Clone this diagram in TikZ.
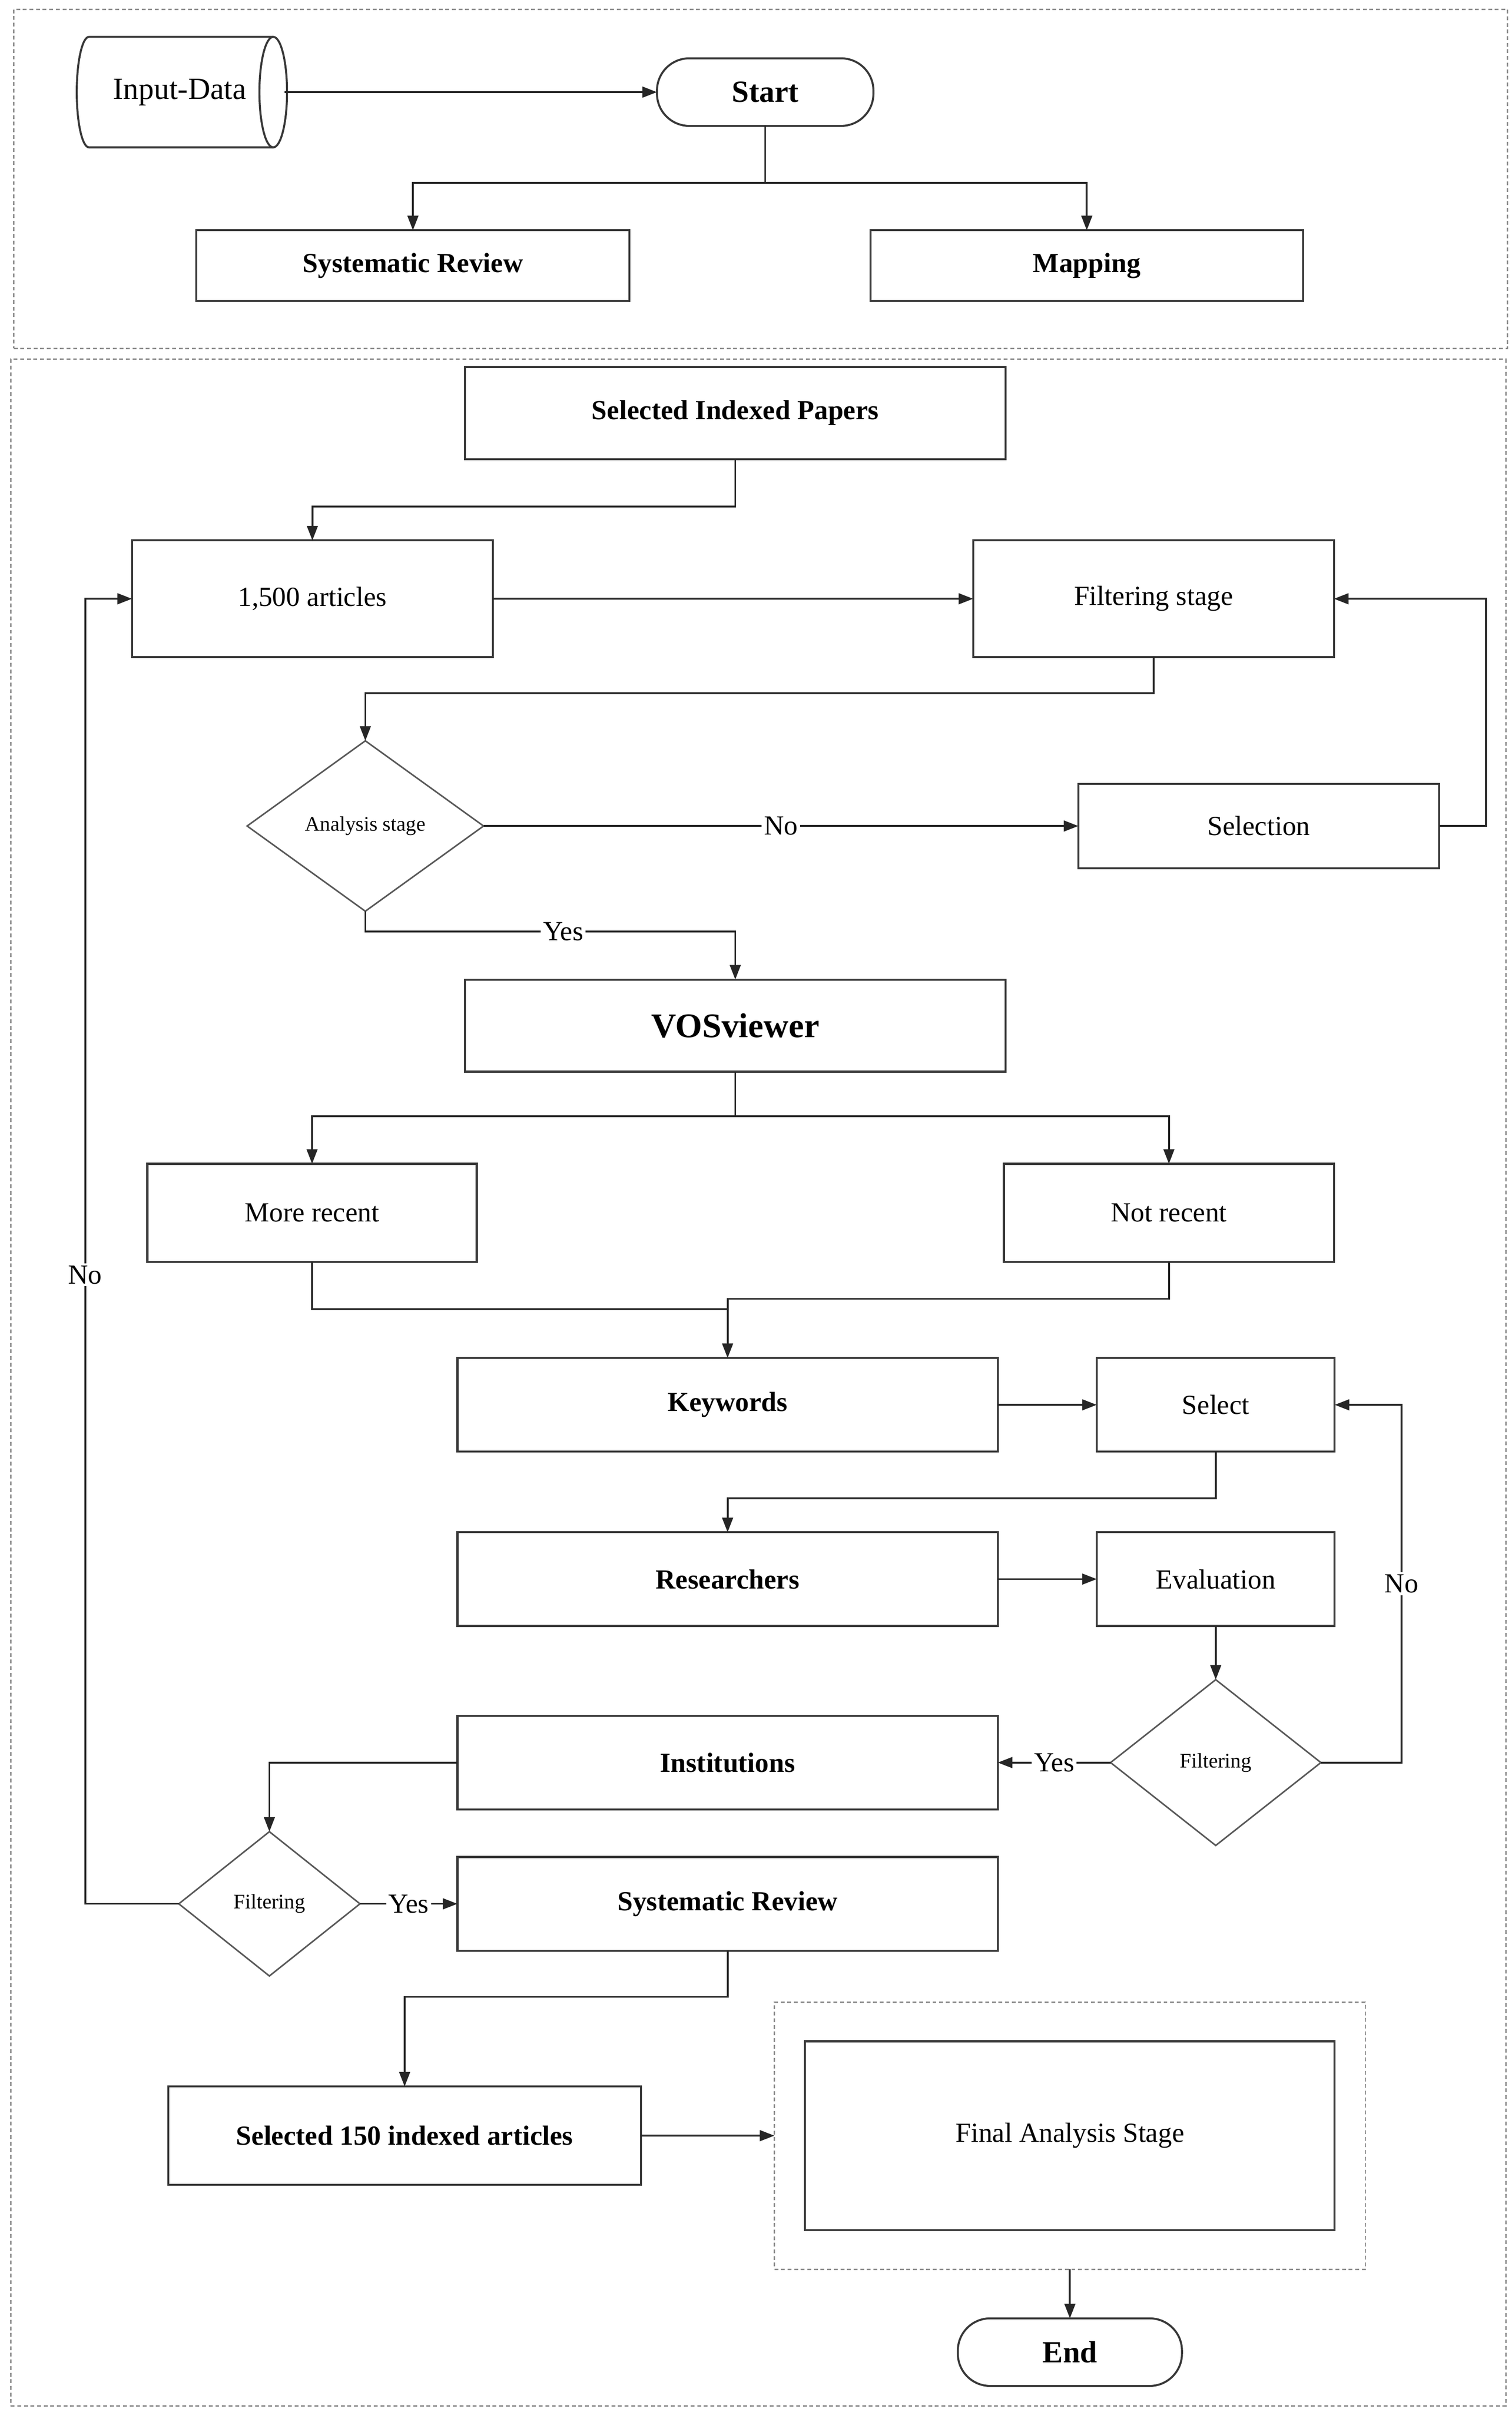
\documentclass[tikz,border=0pt]{standalone}
\usepackage{fontspec}
\setmainfont{Liberation Serif}
\usetikzlibrary{arrows.meta,shapes.geometric,calc}
\begin{document}
\begin{tikzpicture}[x=1pt,y=-1pt,
  every node/.style={inner sep=0pt, outer sep=0pt},
  frame/.style={draw=black!45, line width=0.9pt, dash pattern=on 2.5pt off 1.8pt},
  box/.style={draw=black!78, line width=1.3pt, fill=white, align=center, font=\fontsize{18}{21}\selectfont},
  bbox/.style={box, font=\fontsize{18}{21}\selectfont\bfseries},
  term/.style={box, rounded corners=21pt, font=\fontsize{20}{22}\selectfont\bfseries},
  dia/.style={diamond, draw=black!65, line width=1pt, fill=white, font=\fontsize{13.5}{15}\selectfont},
  shp/.style={draw=black!78, line width=1.3pt},
  ln/.style={draw=black!85, line width=1.2pt},
  arr/.style={ln, -{Triangle[length=9.5pt,width=7pt]}},
  lab/.style={fill=white, inner sep=1.5pt, font=\fontsize{18}{20}\selectfont}
]
\useasboundingbox (0,0) rectangle (985,1571);

% dashed frames
\node[frame, minimum width=973pt, minimum height=221pt] (topframe) at (495.5,116.5) {};
\node[frame, minimum width=974pt, minimum height=1333pt] (mainframe) at (494,900.5) {};

% ---- top part
\node[minimum width=137pt, minimum height=72pt, font=\fontsize{20}{22}\selectfont] (inp) at (117,60) {Input-Data};
\draw[shp] (178,24) -- (58,24) arc[start angle=270, end angle=90, x radius=8, y radius=36] -- (178,96);
\draw[shp] (178,60) ellipse[x radius=9, y radius=36];

\node[term, minimum width=141pt, minimum height=44pt] (start) at (498.5,60) {Start};
\node[bbox, minimum width=282pt, minimum height=46pt] (sr1) at (269,173) {Systematic Review};
\node[bbox, minimum width=282pt, minimum height=46pt] (map) at (708,173) {Mapping};

\draw[arr] (inp.east) -- (start.west);
\coordinate (j1) at (498.5,119);
\draw[ln] (start.south) -- (j1);
\draw[arr] (j1) -| (sr1.north);
\draw[arr] (j1) -| (map.north);

% ---- main part
\node[bbox, minimum width=352pt, minimum height=60pt] (sip) at (479,269) {Selected Indexed Papers};
\node[box, minimum width=235pt, minimum height=76pt] (a1500) at (203.5,390) {1,500 articles};
\node[box, minimum width=235pt, minimum height=76pt] (filt) at (751.5,390) {Filtering stage};
\node[dia, minimum width=154pt, minimum height=111pt] (analysis) at (238,538) {Analysis stage};
\node[box, minimum width=235pt, minimum height=55pt] (selection) at (820,538) {Selection};
\node[box, minimum width=352pt, minimum height=60pt, font=\fontsize{22.5}{25}\selectfont\bfseries] (vos) at (479,668) {VOSviewer};
\node[box, minimum width=214.6pt, minimum height=64pt] (more) at (203.3,790) {More recent};
\node[box, minimum width=215pt, minimum height=64pt] (notrec) at (761.5,790) {Not recent};
\node[bbox, minimum width=352pt, minimum height=61pt] (keywords) at (474,915) {Keywords};
\node[box, minimum width=155pt, minimum height=61pt] (select) at (792,915) {Select};
\node[bbox, minimum width=352pt, minimum height=61pt] (research) at (474,1028.5) {Researchers};
\node[box, minimum width=155pt, minimum height=61pt] (eval) at (792,1028.5) {Evaluation};
\node[dia, minimum width=137pt, minimum height=108pt] (filt2) at (792,1148) {Filtering};
\node[bbox, minimum width=352pt, minimum height=61pt] (inst) at (474,1148) {Institutions};
\node[dia, minimum width=118pt, minimum height=94pt] (filt3) at (175.5,1240) {Filtering};
\node[bbox, minimum width=352pt, minimum height=61pt] (sr2) at (474,1240) {Systematic Review};
\node[bbox, minimum width=308pt, minimum height=64pt] (s150) at (263.6,1391) {Selected 150 indexed articles};
\node[frame, minimum width=385pt, minimum height=174pt] (ffr) at (697,1391) {};
\node[box, minimum width=345pt, minimum height=123pt] (final) at (697,1391) {Final Analysis Stage};
\node[term, minimum width=146pt, minimum height=44pt] (end) at (697,1532) {End};

% connectors
\coordinate (j2) at (479,330);
\draw[arr] (sip.south) -- (j2) -| (a1500.north);
\draw[arr] (a1500.east) -- (filt.west);
\coordinate (j3) at (751.5,451.6);
\draw[arr] (filt.south) -- (j3) -| (analysis.north);
\draw[arr] (analysis.east) -- node[lab]{No} (selection.west);
\draw[arr] (selection.east) -- ++(30.5,0) |- (filt.east);
\coordinate (j4) at (238,606.7);
\coordinate (j5) at (479,606.7);
\draw[arr] (analysis.south) -- (j4) -- node[lab,pos=0.535]{Yes} (j5) -- (vos.north);
\coordinate (j6) at (479,727);
\draw[ln] (vos.south) -- (j6);
\draw[arr] (j6) -| (more.north);
\draw[arr] (j6) -| (notrec.north);
\coordinate (j7) at (474,852.6);
\coordinate (j8) at (761.5,846);
\draw[ln] (more.south) |- (j7);
\draw[arr] (notrec.south) -- (j8) -| (keywords.north);
\draw[arr] (keywords.east) -- (select.west);
\coordinate (j9) at (792,976);
\draw[arr] (select.south) -- (j9) -| (research.north);
\draw[arr] (research.east) -- (eval.west);
\draw[arr] (eval.south) -- (filt2.north);
\draw[arr] (filt2.east) -- ++(52.5,0) |- node[lab,pos=0.25]{No} (select.east);
\draw[arr] (filt2.west) -- node[lab]{Yes} (inst.east);
\draw[arr] (inst.west) -| (filt3.north);
\draw[arr] (filt3.west) -- ++(-61,0) |- node[lab,pos=0.241]{No} (a1500.west);
\draw[arr] (filt3.east) -- node[lab]{Yes} (sr2.west);
\coordinate (j10) at (474,1300.6);
\draw[arr] (sr2.south) -- (j10) -| (s150.north);
\draw[arr] (s150.east) -- (s150.east -| ffr.west);
\draw[arr] (ffr.south) -- (end.north);
\end{tikzpicture}
\end{document}
